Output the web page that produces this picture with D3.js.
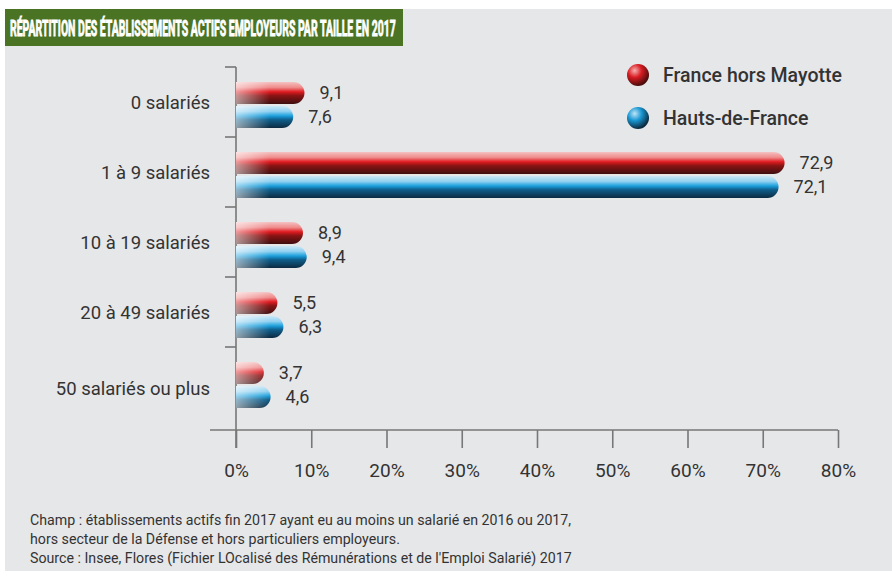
<!DOCTYPE html>
<html>
<meta charset="utf-8">
<title>Répartition des établissements actifs employeurs par taille en 2017</title>
<style>
body { margin: 0; background: #fff; }
text { font-family: Roboto, "DejaVu Sans", sans-serif; fill: #333; }
.titre { font-weight: bold; fill: #fff; stroke: #fff; stroke-width: 0.9px; font-size: 22px; }
.cat { font-size: 18.5px; }
.val { font-size: 18px; }
.tick text { font-size: 19px; fill: #333; }
.leg { font-size: 19.5px; font-weight: 500; }
.note { font-size: 14.2px; }
</style>
<body>
<div id="chart"></div>
<script src="https://cdnjs.cloudflare.com/ajax/libs/d3/7.8.5/d3.min.js"></script>
<script>
// Données
var categories = ["0 salariés", "1 à 9 salariés", "10 à 19 salariés", "20 à 49 salariés", "50 salariés ou plus"];
var series = ["France hors Mayotte", "Hauts-de-France"];
var franceVals = [9.1, 72.9, 8.9, 5.5, 3.7];
var hdfVals = [7.6, 72.1, 9.4, 6.3, 4.6];
var ticks = [0, 10, 20, 30, 40, 50, 60, 70, 80];
var notes = [
  "Champ : établissements actifs fin 2017 ayant eu au moins un salarié en 2016 ou 2017,",
  "hors secteur de la Défense et hors particuliers employeurs.",
  "Source : Insee, Flores (Fichier LOcalisé des Rémunérations et de l'Emploi Salarié) 2017"
];

var width = 892, height = 579;
var svg = d3.select("#chart").append("svg")
    .attr("width", width)
    .attr("height", height);

// fond gris + bandeau titre
svg.append("rect").attr("x", 5).attr("y", 9).attr("width", width - 5).attr("height", 562).attr("fill", "#e6e7e9");
svg.append("rect").attr("x", 5).attr("y", 9).attr("width", 398).attr("height", 37).attr("fill", "#4a7323");
var titre = svg.append("text").attr("class", "titre")
    .attr("x", 0).attr("y", 0)
    .text("RÉPARTITION DES ÉTABLISSEMENTS ACTIFS EMPLOYEURS PAR TAILLE EN 2017");
// police condensée : on compresse horizontalement
var tw = titre.node().getComputedTextLength();
titre.attr("transform", "translate(10,36) scale(" + (386 / tw) + ",1)");

// échelles
var x = d3.scaleLinear().domain([0, 80]).range([236, 838]);
var y = d3.scaleBand().domain(categories).range([70, 420]);
var barH = 22, gap = 2;

var defs = svg.append("defs");
function vGrad(id, stops) {
  var g = defs.append("linearGradient").attr("id", id)
      .attr("x1", 0).attr("y1", 0).attr("x2", 0).attr("y2", 1);
  stops.forEach(function(s) { g.append("stop").attr("offset", s[0]).attr("stop-color", s[1]); });
}
vGrad("gRed", [[0, "#f5c2c2"], [0.25, "#ef8a8a"], [0.45, "#e01a20"], [0.62, "#8a1414"], [1, "#3e0e0f"]]);
vGrad("gBlue", [[0, "#cbe8f7"], [0.25, "#8fd0f0"], [0.45, "#1ba0dc"], [0.62, "#0f5f8c"], [1, "#0c2a40"]]);

function rGrad(id, c1, c2, c3) {
  var g = defs.append("radialGradient").attr("id", id)
      .attr("cx", "35%").attr("cy", "30%").attr("r", "70%");
  g.append("stop").attr("offset", 0).attr("stop-color", c1);
  g.append("stop").attr("offset", 0.45).attr("stop-color", c2);
  g.append("stop").attr("offset", 1).attr("stop-color", c3);
}
rGrad("sRed", "#f7b0b0", "#d81c22", "#4a0c0c");
rGrad("sBlue", "#bfe5f7", "#1a98d4", "#0b2a40");

// reflet blanc à gauche des barres
var hl = defs.append("linearGradient").attr("id", "hl")
    .attr("gradientUnits", "userSpaceOnUse").attr("x1", 236).attr("x2", 270).attr("y1", 0).attr("y2", 0);
hl.append("stop").attr("offset", 0).attr("stop-color", "#fff").attr("stop-opacity", 0.55);
hl.append("stop").attr("offset", 1).attr("stop-color", "#fff").attr("stop-opacity", 0);

function barPath(v, y0) {
  var x0 = x(0), x1 = x(v), r = barH / 2;
  return "M" + x0 + "," + y0 + "H" + (x1 - r) +
    "A" + r + "," + r + " 0 0 1 " + x1 + "," + (y0 + r) +
    "A" + r + "," + r + " 0 0 1 " + (x1 - r) + "," + (y0 + barH) +
    "H" + x0 + "Z";
}

var rows = categories.map(function(c, i) { return {cat: c, fr: franceVals[i], hdf: hdfVals[i]}; });
var mid = function(d) { return y(d.cat) + y.bandwidth() / 2; };

// axes
var ax = svg.append("g").attr("stroke", "#777").attr("stroke-width", 1.6);
ax.append("line").attr("x1", x(0)).attr("x2", x(0)).attr("y1", y(categories[0]) - 3).attr("y2", 448);
ax.append("line").attr("x1", 210).attr("x2", x(80)).attr("y1", 430).attr("y2", 430);
ax.selectAll(".sep").data(categories).enter().append("line")
    .attr("x1", 225).attr("x2", x(0))
    .attr("y1", function(d) { return y(d) - 3; }).attr("y2", function(d) { return y(d) - 3; });

var xAxis = svg.append("g").attr("transform", "translate(0,430)")
    .call(d3.axisBottom(x).tickValues(ticks).tickSize(18).tickPadding(16)
      .tickFormat(function(d) { return d + "%"; }));
xAxis.select(".domain").remove();
xAxis.selectAll(".tick line").attr("stroke", "#777").attr("stroke-width", 1.6);

// libellés catégories
svg.selectAll(".cat").data(rows).enter().append("text")
    .attr("class", "cat")
    .attr("x", 210).attr("y", function(d, i) { return mid(d) - 2 + (i === 4 ? 6 : 0); })
    .attr("dy", "0.35em").attr("text-anchor", "end")
    .text(function(d) { return d.cat; });

// barres
var fmt = function(v) { return String(v.toFixed(1)).replace(".", ","); };
[["fr", "gRed", -barH - gap / 2], ["hdf", "gBlue", gap / 2]].forEach(function(s) {
  var g = svg.append("g");
  g.selectAll("path.b").data(rows).enter().append("path")
      .attr("d", function(d) { return barPath(d[s[0]], mid(d) + s[2]); })
      .attr("fill", "url(#" + s[1] + ")");
  g.selectAll("path.h").data(rows).enter().append("path")
      .attr("d", function(d) { return barPath(d[s[0]], mid(d) + s[2]); })
      .attr("fill", "url(#hl)");
  g.selectAll("text").data(rows).enter().append("text")
      .attr("class", "val")
      .attr("x", function(d) { return x(d[s[0]]) + 15; })
      .attr("y", function(d) { return mid(d) + s[2] + barH / 2; })
      .attr("dy", "0.35em")
      .text(function(d) { return fmt(d[s[0]]); });
});

// légende
var leg = svg.append("g").selectAll("g").data(series).enter().append("g")
    .attr("transform", function(d, i) { return "translate(638," + (75 + i * 43) + ")"; });
leg.append("circle").attr("r", 11).attr("fill", function(d, i) { return i ? "url(#sBlue)" : "url(#sRed)"; });
leg.append("text").attr("class", "leg").attr("x", 25).attr("dy", "0.35em").text(function(d) { return d; });

// notes
svg.selectAll(".note").data(notes).enter().append("text")
    .attr("class", "note")
    .attr("x", 30).attr("y", function(d, i) { return 525 + i * 19; })
    .text(function(d) { return d; });
</script>
</body>
</html>
